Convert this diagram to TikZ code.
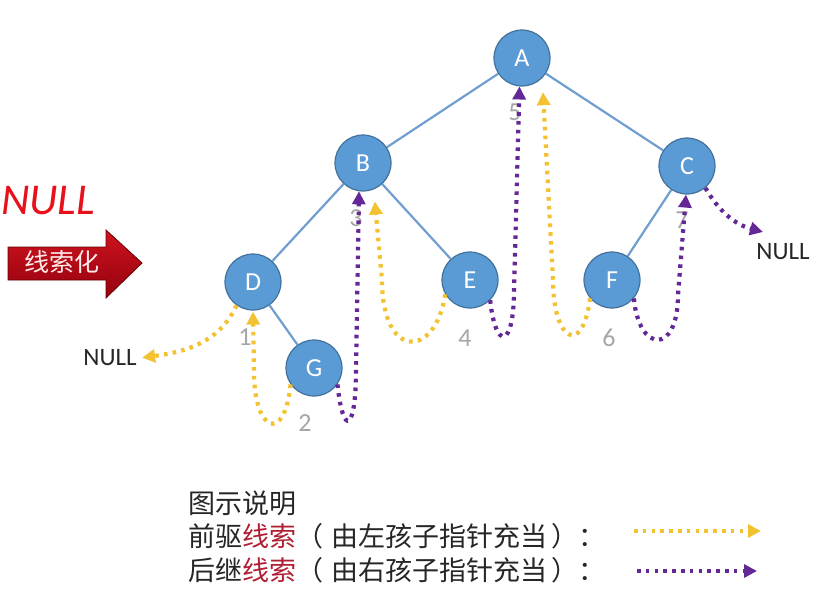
\documentclass[tikz,border=0pt]{standalone}
\usepackage{fontspec}
\setmainfont{Carlito}
\newfontfamily\cjk{Noto Sans CJK SC}
\usetikzlibrary{arrows.meta}
\definecolor{nodefill}{RGB}{91,155,213}
\definecolor{nodedraw}{RGB}{65,113,156}
\definecolor{edgec}{RGB}{112,158,208}
\definecolor{preC}{RGB}{242,194,48}
\definecolor{sucC}{RGB}{100,40,150}
\definecolor{numC}{RGB}{166,166,166}
\definecolor{darkredT}{RGB}{175,30,50}
\definecolor{arrowtop}{RGB}{205,20,30}
\definecolor{arrowbot}{RGB}{150,0,15}
\definecolor{handred}{RGB}{232,16,26}
\begin{document}
\begin{tikzpicture}[x=1pt,y=1pt,
 tn/.style={circle,fill=nodefill,draw=nodedraw,line width=1.2pt,minimum size=56pt,inner sep=0pt,text=white,font=\fontsize{26}{26}\selectfont},
 tedge/.style={draw=edgec,line width=2.2pt},
 thr/.style={line width=4.2pt,dash pattern=on 3.6pt off 5.2pt,-{Triangle[length=13pt,width=13pt]}},
 pre/.style={thr,color=preC},
 suc/.style={thr,color=sucC},
 num/.style={text=numC,font=\fontsize{26}{26}\selectfont},
 nulltxt/.style={font=\fontsize{25}{25}\selectfont,text=black!85},
 leg/.style={anchor=west,font=\cjk\fontsize{27}{27}\selectfont,inner sep=0pt,text=black!85},
]
\useasboundingbox (0,0) rectangle (823,-616);

% handwritten NULL
\node[text=handred,font=\fontsize{44}{44}\selectfont\itshape,anchor=west,inner sep=0pt] (nullhand) at (1,-201) {NULL};

% red arrow
\shade[top color=arrowtop,bottom color=arrowbot,draw=red!40!black,line width=0.8pt]
  (8,-247) -- (106,-247) -- (106,-230) -- (142,-263) -- (106,-298) -- (106,-280) -- (8,-280) -- cycle;
\node[text=white!92!red,font=\cjk\fontsize{25}{25}\selectfont] (xsh) at (62,-262) {线索化};

% tree nodes
\node[tn] (A) at (522,-58) {A};
\node[tn] (B) at (363,-163) {B};
\node[tn] (C) at (687,-166) {C};
\node[tn] (D) at (253,-282) {D};
\node[tn] (E) at (470,-280) {E};
\node[tn] (F) at (612,-280) {F};
\node[tn] (G) at (314,-368) {G};

\draw[tedge] (A) -- (B);
\draw[tedge] (A) -- (C);
\draw[tedge] (B) -- (D);
\draw[tedge] (B) -- (E);
\draw[tedge] (C) -- (F);
\draw[tedge] (D) -- (G);

% numbers
\node[num] (n1) at (245,-337) {1};
\node[num] (n2) at (305,-423) {2};
\node[num] (n3) at (356,-218) {3};
\node[num] (n4) at (465,-338) {4};
\node[num] (n5) at (515,-112) {5};
\node[num] (n6) at (609,-338) {6};
\node[num] (n7) at (682,-220) {7};

% NULL labels
\node[nulltxt] (nullL) at (110,-358) {NULL};
\node[nulltxt] (nullR) at (783,-252) {NULL};
\coordinate (cnull) at (763,-232);

% threads
\draw[pre,shorten >=2pt] (D.235) to[out=-115,in=8] (nullL.east);
\draw[pre,shorten >=1pt] (G.215) .. controls +(-6,-60) and +(0,-60) .. (254,-372) -- (D.south);
\draw[suc] (G.-35) .. controls +(6,-55) and +(0,-60) .. (356,-370) -- (B.262);
\draw[pre,shorten >=12pt] (E.210) .. controls +(-10,-65) and +(0,-80) .. (382,-280) -- (B.-68);
\draw[suc] (E.-45) .. controls +(5,-50) and +(0,-60) .. (514,-290) -- (A.265);
\draw[pre,shorten >=14pt] (F.220) .. controls +(-8,-60) and +(0,-60) .. (553,-280) -- (A.-45);
\draw[suc] (F.-40) .. controls +(5,-55) and +(0,-60) .. (678,-295) -- (C.268);
\draw[suc] (C.-50) to[out=-60,in=165] (cnull);

% legend
\node[leg] (l1) at (188,-503) {图示说明};
\node[leg] (l2) at (188,-536) {前驱\textcolor{darkredT}{线索}（\hspace{8pt}由左孩子指针充当\hspace{4pt}）：};
\node[leg] (l3) at (188,-570) {后继\textcolor{darkredT}{线索}（\hspace{8pt}由右孩子指针充当\hspace{4pt}）：};
\coordinate (ly1) at (634,-531);
\coordinate (ly2) at (761,-531);
\coordinate (lp1) at (637,-571);
\coordinate (lp2) at (757,-571);
\draw[pre] (ly1) -- (ly2);
\draw[suc] (lp1) -- (lp2);
\end{tikzpicture}
\end{document}
